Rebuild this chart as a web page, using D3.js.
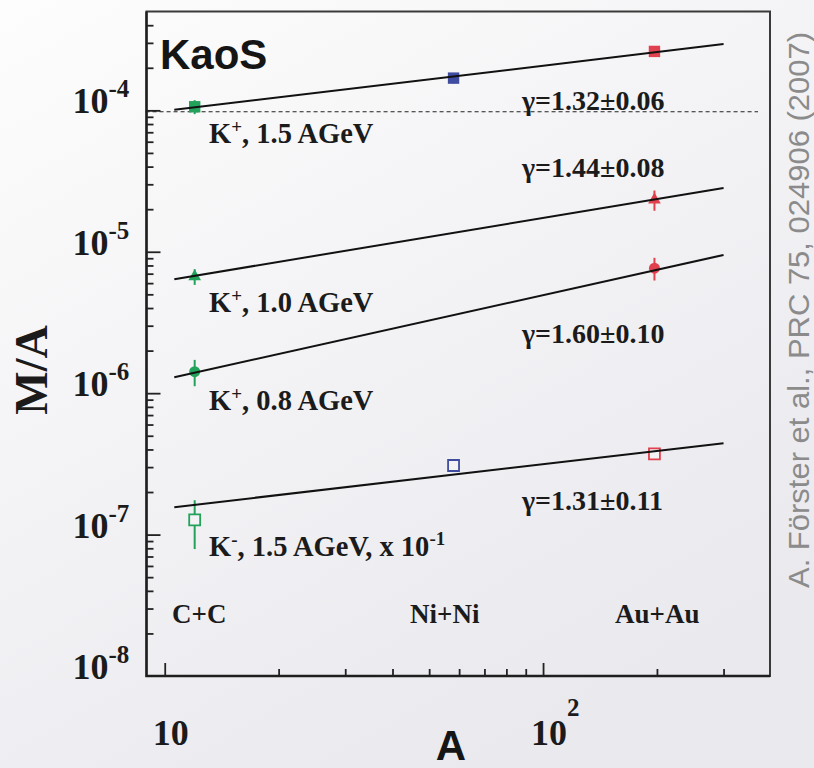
<!DOCTYPE html>
<html>
<head>
<meta charset="utf-8">
<script src="https://d3js.org/d3.v7.min.js"></script>
<style>
  body { margin:0; background:#f1f1f4; }
  svg { display:block; }
  .serif { font-family:"Liberation Serif","Times New Roman",serif; font-weight:bold; fill:#1b1b1b; }
  .sans { font-family:"Liberation Sans",Arial,sans-serif; font-weight:bold; fill:#151515; }
</style>
</head>
<body>
<script>

/* Data */
/* ==== */

// collision systems (mass number A), colour per system
var systems = ["C+C", "Ni+Ni", "Au+Au"];
var massNumbers = [12, 58, 197];
var systemColors = ["#22a25a", "#3f4c9f", "#e1404f"];

// M/A per system, null = no point
var kp15 = [1.06e-4, 1.69e-4, 2.61e-4];
var kp15Err = [0.12e-4, 0.14e-4, 0.10e-4];
var kp10 = [6.68e-6, null, 2.33e-5];
var kp10Err = [0.85e-6, null, 0.38e-5];
var kp08 = [1.42e-6, null, 7.66e-6];
var kp08Err = [0.30e-6, null, 1.40e-6];
var km15 = [1.27e-7, 3.08e-7, 3.72e-7];
var km15Err = [0.48e-7, 0.30e-7, 0.30e-7];

// fitted power laws M/A ~ A^(gamma-1): values at both ends of fitA
var fitA = [10.6, 300];
var fitKp15 = [1.008e-4, 2.94e-4];
var fitKp10 = [6.40e-6, 2.82e-5];
var fitKp08 = [1.297e-6, 9.5e-6];
var fitKm15 = [1.563e-7, 4.43e-7];

var gammaLabels = ["\u03b3=1.32\u00b10.06", "\u03b3=1.44\u00b10.08", "\u03b3=1.60\u00b10.10", "\u03b3=1.31\u00b10.11"];
var beamLabels = ["1.5 AGeV", "1.0 AGeV", "0.8 AGeV", "1.5 AGeV, x 10"];
var charges = ["+", "+", "+", "-"];

// dashed reference level
var refLevel = 9.78e-5;
var refA = [8.9, 370];

var xDomain = [8.95, 398];
var yDomain = [1e-8, 5e-4];


/* Set up */
/* ====== */

var width = 814,
    height = 768,
    frame = { left: 146.5, right: 770, top: 11.5, bottom: 676 };

var svg = d3.select('body').append('svg')
    .attr('width', width)
    .attr('height', height);

var defs = svg.append('defs');
var grad = defs.append('linearGradient').attr('id', 'bg')
    .attr('x1', 0).attr('y1', 0).attr('x2', 0.6).attr('y2', 1);
grad.append('stop').attr('offset', 0).attr('stop-color', '#fdfdfd');
grad.append('stop').attr('offset', 1).attr('stop-color', '#e9e9ee');

svg.append('rect').attr('width', width).attr('height', height).attr('fill', 'url(#bg)');

var x = d3.scaleLog().domain(xDomain).range([frame.left, frame.right]);
var y = d3.scaleLog().domain(yDomain).range([frame.bottom, frame.top]);

function isPow10(d) {
  var l = Math.log10(d);
  return Math.abs(l - Math.round(l)) < 1e-6;
}


/* Axes */
/* ==== */

var xt = x.ticks().filter(function(d) { return x(d) > frame.left + 3 && x(d) < frame.right - 3; });
var yt = y.ticks().filter(function(d) { return y(d) < frame.bottom - 3 && y(d) > frame.top + 3; });

function styleAxis(g) {
  g.select('.domain').remove();
  g.selectAll('line').attr('stroke', '#222').attr('stroke-width', 1.8);
}

svg.append('g').attr('transform', 'translate(0,' + frame.bottom + ')')
  .call(d3.axisBottom(x).tickValues(xt.filter(isPow10)).tickSize(-13).tickFormat(''))
  .call(styleAxis);
svg.append('g').attr('transform', 'translate(0,' + frame.bottom + ')')
  .call(d3.axisBottom(x).tickValues(xt.filter(function(d) { return !isPow10(d); })).tickSize(-7).tickFormat(''))
  .call(styleAxis);
svg.append('g').attr('transform', 'translate(' + frame.left + ',0)')
  .call(d3.axisLeft(y).tickValues(yt.filter(isPow10)).tickSize(-14).tickFormat(''))
  .call(styleAxis);
svg.append('g').attr('transform', 'translate(' + frame.left + ',0)')
  .call(d3.axisLeft(y).tickValues(yt.filter(function(d) { return !isPow10(d); })).tickSize(-7).tickFormat(''))
  .call(styleAxis);

// frame
svg.append('path')
  .attr('d', 'M' + frame.left + ',' + frame.bottom + 'V' + frame.top + 'H' + frame.right + 'V' + frame.bottom + 'Z')
  .attr('fill', 'none').attr('stroke', '#3a3a3a').attr('stroke-width', 2);
svg.append('path')
  .attr('d', 'M' + frame.left + ',' + frame.top + 'V' + frame.bottom + 'H' + frame.right)
  .attr('fill', 'none').attr('stroke', '#1e1e1e').attr('stroke-width', 2.4);

// y tick labels 10^n
yt.concat([1e-8]).filter(isPow10).forEach(function(d) {
  var t = svg.append('text').attr('class', 'serif')
      .attr('x', frame.left - 74).attr('y', y(d) + 3)
      .attr('font-size', 36);
  t.append('tspan').text('10');
  t.append('tspan').attr('font-size', 25).attr('dy', -16)
    .text(String(Math.round(Math.log10(d))));
});

// x tick labels
[10, 100].forEach(function(d) {
  var t = svg.append('text').attr('class', 'serif')
      .attr('x', x(d) - 12).attr('y', 745)
      .attr('font-size', 36);
  t.append('tspan').text('10');
  if (d === 100) t.append('tspan').attr('font-size', 25).attr('dy', -29).text('2');
});

// axis titles
svg.append('text').attr('class', 'sans')
  .attr('x', 451).attr('y', 760)
  .attr('text-anchor', 'middle').attr('font-size', 42)
  .text('A');

svg.append('text').attr('class', 'serif')
  .attr('transform', 'translate(47,370) rotate(-90)')
  .attr('text-anchor', 'middle').attr('font-size', 46)
  .text('M/A');

svg.append('text')
  .attr('transform', 'translate(809,310) rotate(-90)')
  .attr('text-anchor', 'middle')
  .attr('font-family', '"Liberation Sans",Arial,sans-serif')
  .attr('font-size', 29).attr('fill', '#8b8b8b')
  .attr('textLength', 556).attr('lengthAdjust', 'spacingAndGlyphs')
  .text('A. F\u00f6rster et al., PRC 75, 024906 (2007)');

svg.append('text').attr('class', 'sans')
  .attr('x', 160).attr('y', 69).attr('font-size', 42)
  .text('KaoS');


/* Reference line */
/* ============== */

svg.append('line')
  .attr('x1', x(refA[0])).attr('x2', x(refA[1]))
  .attr('y1', y(refLevel)).attr('y2', y(refLevel))
  .attr('stroke', '#222').attr('stroke-width', 1.1)
  .attr('stroke-dasharray', '4,3');


/* Data points */
/* =========== */

var series = [
  { vals: kp15, err: kp15Err, fit: fitKp15, shape: d3.symbolSquare, size: 130, open: false },
  { vals: kp10, err: kp10Err, fit: fitKp10, shape: d3.symbolTriangle, size: 70, open: false },
  { vals: kp08, err: kp08Err, fit: fitKp08, shape: d3.symbolCircle, size: 95, open: false },
  { vals: km15, err: km15Err, fit: fitKm15, shape: d3.symbolSquare, size: 130, open: true }
];

series.forEach(function(s) {
  var pts = massNumbers.map(function(a, i) {
    return { a: a, v: s.vals[i], e: s.err[i], c: systemColors[i] };
  }).filter(function(p) { return p.v !== null; });

  var g = svg.append('g');

  g.selectAll('.err').data(pts).enter().append('line')
    .attr('x1', function(p) { return x(p.a); })
    .attr('x2', function(p) { return x(p.a); })
    .attr('y1', function(p) { return y(p.v - p.e); })
    .attr('y2', function(p) { return y(p.v + p.e); })
    .attr('stroke', function(p) { return p.c; })
    .attr('stroke-width', 2);

  g.selectAll('.pt').data(pts).enter().append('path')
    .attr('transform', function(p) { return 'translate(' + x(p.a) + ',' + y(p.v) + ')'; })
    .attr('d', d3.symbol().type(s.shape).size(s.open ? 120 : s.size))
    .attr('fill', function(p) { return s.open ? '#f3f3f6' : p.c; })
    .attr('stroke', function(p) { return s.open ? p.c : 'none'; })
    .attr('stroke-width', 1.8);

  g.append('path')
    .datum(fitA.map(function(a, i) { return [a, s.fit[i]]; }))
    .attr('d', d3.line().x(function(d) { return x(d[0]); }).y(function(d) { return y(d[1]); }))
    .attr('fill', 'none').attr('stroke', '#111').attr('stroke-width', 2);
});


/* Labels */
/* ====== */

var labelBase = [143, 312, 410, 556];
var gammaBase = [110, 177, 343, 510];

beamLabels.forEach(function(lab, i) {
  var t = svg.append('text').attr('class', 'serif')
      .attr('x', 209).attr('y', labelBase[i]).attr('font-size', 28.5);
  t.append('tspan').text('K');
  t.append('tspan').attr('font-size', 19).attr('dy', -10).text(charges[i]);
  t.append('tspan').attr('dy', 10).text(', ' + lab);
  if (i === 3) t.append('tspan').attr('font-size', 19).attr('dy', -11).text('-1');
});

gammaLabels.forEach(function(lab, i) {
  svg.append('text').attr('class', 'serif')
    .attr('x', 522).attr('y', gammaBase[i]).attr('font-size', 28)
    .text(lab);
});

systems.forEach(function(s, i) {
  svg.append('text').attr('class', 'serif')
    .attr('x', [172, 410, 615][i]).attr('y', 623).attr('font-size', 27)
    .text(s);
});

</script>
</body>
</html>
